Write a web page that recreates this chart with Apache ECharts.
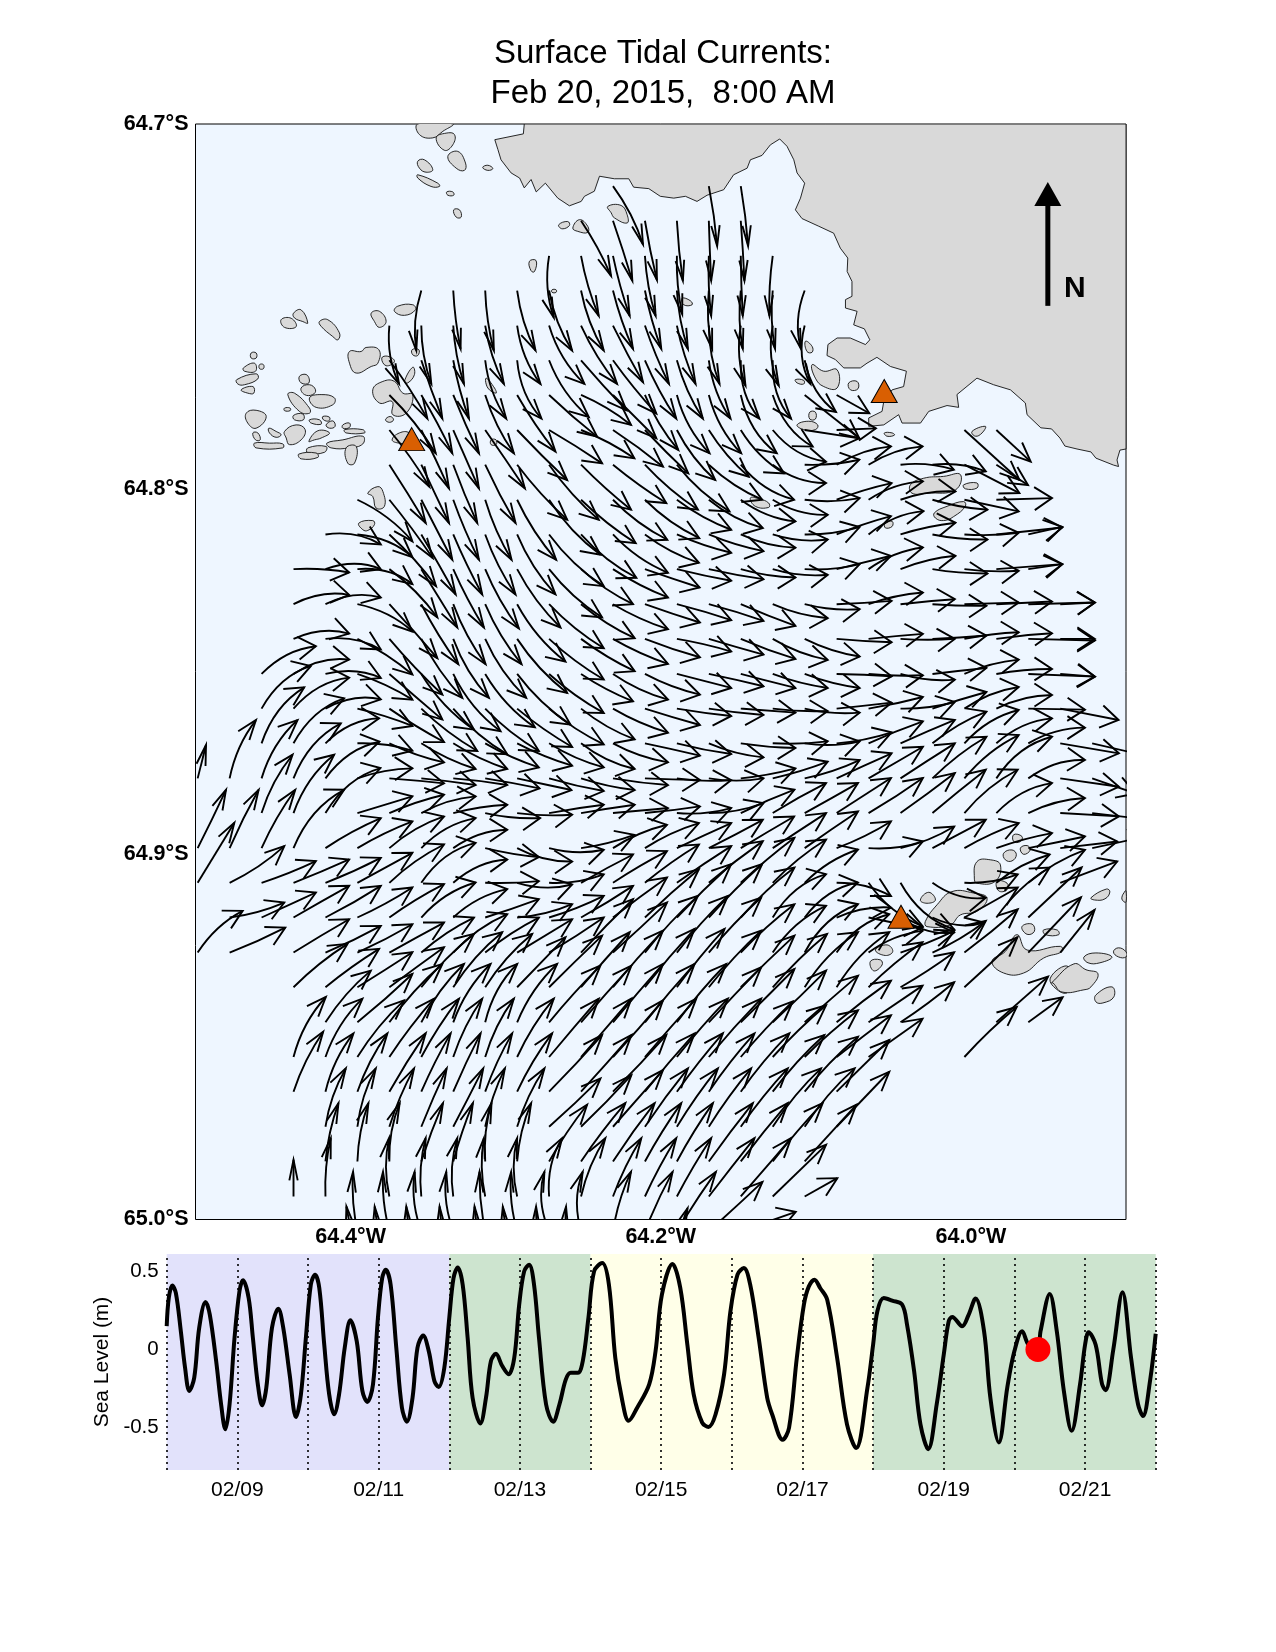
<!DOCTYPE html>
<html><head><meta charset="utf-8">
<style>html,body{margin:0;padding:0;background:#fff}#c{width:1276px;height:1652px}</style>
<script src="https://cdn.jsdelivr.net/npm/echarts@6/dist/echarts.min.js"></script>
</head><body><div id="c"></div>
<script>
// Map positions are degrees west / degrees south.
const colLon=[64.4986,64.478,64.4574,64.4368,64.4162,64.3956,64.375,64.3544,64.3338,64.3132,64.2926,64.272,64.2514,64.2308,64.2102,64.1896,64.169,64.1484,64.1278,64.1072,64.0866,64.066,64.0454,64.0248,64.0042,63.9836,63.963,63.9424,63.9218];
const rowLat=[64.717,64.7265,64.7361,64.7456,64.7552,64.7647,64.7742,64.7838,64.7933,64.8029,64.8124,64.8219,64.8315,64.841,64.8506,64.8601,64.8696,64.8792,64.8887,64.8983,64.9078,64.9173,64.9269,64.9364,64.946,64.9555,64.965,64.9746,64.9841,64.9937,65.0032,65.0127];
// per row: column index, eastward, northward current
const currentRows=[
[13,90,-175,16,25,-180,17,22,-180],
[12,90,-165,13,58,-180,14,36,-178,15,18,-180,16,7,-180,17,11,-180],
[11,14,-185,12,53,-180,13,50,-180,14,32,-180,15,16,-175,16,7,-180,17,6,-180,18,-10,-180],
[7,-15,-180,8,22,-175,9,26,-180,10,55,-180,11,69,-180,12,68,-180,13,60,-175,14,49,-175,15,33,-175,16,10,-175,17,6,-175,18,7,-175,19,-11,-175],
[6,29,-175,7,30,-175,8,32,-175,9,56,-175,10,70,-175,11,106,-175,12,108,-175,13,90,-170,14,72,-175,15,56,-175,16,32,-175,17,14,-180,18,18,-180,19,17,-175],
[6,114,-175,7,63,-175,8,47,-175,9,63,-175,10,73,-175,11,119,-170,12,136,-150,13,130,-160,14,94,-175,15,78,-175,16,65,-175,17,56,-175,18,55,-175,19,94,-155],
[6,139,-175,7,93,-175,8,77,-175,9,86,-175,10,115,-170,11,144,-125,12,150,-90,13,130,-130,14,100,-165,15,98,-175,16,97,-175,17,108,-175,18,120,-155,19,164,-130,20,98,-55],
[6,120,-170,7,83,-175,8,77,-175,9,119,-175,10,150,-150,11,159,-100,12,160,-85,13,150,-110,14,130,-130,15,115,-150,16,120,-140,17,130,-130,18,160,-95,19,164,-25,20,118,5,24,165,-150,25,103,-95],
[6,109,-175,7,83,-175,8,72,-175,9,91,-175,10,150,-165,11,149,-165,12,150,-135,13,160,-115,14,159,-135,15,158,-140,16,160,-105,17,160,-105,18,160,-55,19,164,15,20,163,55,21,162,55,22,160,-15,23,160,-20,24,165,-85,25,95,-61],
[5,165,-125,6,130,-175,7,93,-180,8,77,-180,9,79,-180,10,117,-180,11,154,-165,12,164,-130,13,163,-120,14,163,-115,15,163,-90,16,162,-85,17,164,-65,18,165,-45,19,165,5,20,165,50,21,163,55,22,165,25,23,165,-30,24,163,-35,25,167,5],
[4,166,-30,5,165,-68,6,140,-155,7,103,-180,8,87,-180,9,91,-180,10,115,-180,11,164,-155,12,166,-130,13,165,-115,14,162,-85,15,163,-55,16,164,-50,17,164,-40,18,165,-15,19,165,22,20,163,55,21,165,70,22,165,35,23,165,-15,24,163,5,25,198,21,26,102,23],
[3,167,-10,4,166,0,5,165,-45,6,144,-145,7,108,-175,8,92,-175,9,101,-178,10,130,-175,11,159,-145,12,156,-105,13,165,-85,14,164,-55,15,163,-35,16,164,-30,17,164,-25,18,165,-17,19,165,15,20,163,40,21,163,65,22,165,40,23,165,-13,24,163,-5,25,198,15,26,102,15],
[3,167,28,4,166,20,5,165,-82,6,144,-162,7,111,-180,8,97,-180,9,109,-180,10,145,-172,11,164,-132,12,161,-102,13,165,-75,14,165,-55,15,163,-48,16,164,-50,17,164,-65,18,165,-42,19,165,-15,20,165,10,21,163,35,22,163,15,23,162,-5,24,163,5,25,167,8,26,200,5,27,104,5],
[3,167,16,4,166,-32,5,165,-107,6,159,-167,7,123,-177,8,107,-177,9,123,-177,10,150,-162,11,164,-122,12,161,-97,13,165,-75,14,165,-55,15,163,-38,16,164,-47,17,164,-60,18,165,-63,19,165,-53,20,165,-10,21,163,15,22,163,0,23,162,10,24,163,20,25,167,17,26,200,-5,27,104,0],
[2,163,83,3,167,43,4,166,-12,5,165,-77,6,159,-137,7,158,-167,8,142,-172,9,149,-160,10,160,-152,11,164,-117,12,156,-82,13,165,-77,14,165,-62,15,163,-42,16,164,-37,17,164,-42,18,165,-42,19,165,-42,20,165,-7,21,163,-4,22,163,-17,23,162,18,24,163,43,25,167,15,26,200,-8,27,104,-8],
[2,148,128,3,167,93,4,166,28,5,165,-52,6,164,-100,7,168,-127,8,162,-137,9,161,-127,10,165,-115,11,164,-107,12,161,-92,13,165,-72,14,165,-49,15,163,-22,16,164,-19,17,164,-12,18,165,-7,19,165,-12,20,165,18,21,163,35,22,163,20,23,162,50,24,163,65,25,167,41,26,170,-3,27,175,-34],
[2,128,168,3,152,135,4,161,75,5,165,-22,6,164,-57,7,163,-77,8,162,-77,9,161,-72,10,165,-67,11,164,-72,12,161,-77,13,165,-57,14,165,-37,15,163,-32,16,164,-42,17,164,-14,18,165,6,19,165,6,20,165,33,21,163,66,22,163,70,23,162,95,24,163,100,25,167,75,26,170,47,27,176,-30,28,173,-40],
[0,25,100,1,79,175,2,108,175,3,142,165,4,162,110,5,165,30,6,164,-15,7,163,-20,8,162,-20,9,163,-30,10,163,-35,11,164,-38,12,161,-35,13,165,-20,14,165,-5,15,163,-5,16,164,0,17,164,30,18,165,50,19,165,55,20,165,75,21,163,95,22,163,105,23,162,125,24,163,130,25,167,125,26,170,55,27,176,-25,28,130,-45],
[2,93,175,3,122,175,4,165,135,5,165,50,6,164,55,7,163,50,8,162,25,9,165,-15,10,165,-5,11,164,25,12,161,25,13,165,15,14,165,20,15,163,15,16,164,30,17,161,70,18,160,90,19,160,90,20,163,105,21,163,105,22,163,120,23,160,130,24,160,130,25,167,90,26,170,45,27,176,-10,28,170,-20],
[0,85,175,1,87,175,2,101,175,3,152,175,4,166,90,5,165,80,6,164,95,7,163,90,8,162,55,9,161,-27,10,165,-40,11,164,-5,12,160,40,13,162,70,14,162,75,15,163,75,16,162,85,17,160,95,18,160,105,19,160,110,20,163,80,21,163,20,22,161,65,23,160,85,24,163,75,25,167,45,26,170,35,27,171,20,28,163,35],
[0,110,180,1,164,110,2,163,65,3,167,70,4,166,75,5,165,90,6,164,115,7,163,120,8,162,70,9,161,5,10,165,-5,11,164,25,12,156,85,13,162,95,14,162,115,15,163,110,16,162,125,17,161,135,18,160,130,19,160,100,20,163,-40,21,162,-130,22,161,-140,23,160,-45,24,160,25,25,160,85,26,170,99,27,171,64],
[1,164,45,2,163,75,3,167,95,4,166,95,5,165,90,6,164,100,7,163,105,8,162,85,9,161,55,10,165,40,11,164,65,12,156,95,13,162,120,14,162,145,15,163,160,16,160,160,17,161,150,18,160,130,19,160,105,20,163,30,21,162,-30,22,161,-45,23,155,-15,24,160,90,25,160,150,26,160,150],
[0,135,125,1,167,75,3,167,100,4,166,80,5,165,85,6,164,90,7,158,105,8,162,115,9,161,105,10,165,100,11,164,105,12,156,160,13,162,150,14,159,170,15,153,170,16,157,165,17,161,145,18,160,140,19,160,145,20,158,115,21,162,65,22,161,65,23,160,95,24,160,130,26,158,166,27,103,128],
[3,162,130,4,161,115,5,165,105,6,164,120,7,158,160,8,147,165,9,141,160,10,145,150,11,159,155,12,146,165,13,150,170,14,149,175,15,143,175,16,157,170,17,161,155,18,163,160,19,160,165,20,158,165,21,162,135,22,161,105,24,159,150],
[4,136,155,5,165,145,6,159,175,7,128,175,8,112,175,9,96,175,10,120,175,11,154,170,12,151,170,13,150,175,14,149,175,15,148,175,16,157,165,17,161,160,18,160,155,19,160,140,20,163,125,21,162,110,22,161,120,25,155,137,26,103,75],
[3,97,180,4,111,175,5,140,170,6,134,175,7,113,175,8,87,175,9,86,175,10,110,175,11,149,175,12,151,175,13,150,170,14,154,175,15,153,175,16,157,175,17,156,167,18,160,155,19,160,140,20,163,125,21,162,115,24,157,150],
[3,89,180,4,84,175,5,90,175,6,109,175,7,88,175,8,82,175,9,81,175,10,105,175,11,159,170,12,151,170,13,160,170,14,149,175,15,138,175,16,137,175,17,146,175,18,155,170,19,160,165,20,158,155],
[4,61,175,5,55,175,6,74,175,7,76,175,8,90,175,9,59,175,10,82,175,11,154,145,12,151,155,13,150,170,14,129,175,15,123,175,16,127,175,17,141,175,18,145,175,19,150,175,20,158,165],
[4,39,175,5,33,175,6,31,175,7,65,175,8,59,175,9,19,175,10,42,175,11,114,170,12,133,175,13,125,175,14,109,175,15,108,175,16,132,175,17,141,175,18,150,175,19,155,170],
[3,0,110,4,16,175,6,-1,175,7,13,175,8,12,175,9,-4,175,10,0,175,11,39,175,12,73,175,13,85,175,14,94,175,15,103,175,16,137,175,17,151,175,18,160,155,19,98,55],
[5,-13,178,6,-19,178,7,-20,178,8,-21,178,9,-17,178,10,-18,178,11,-14,178,12,5,178,13,54,178,14,83,178,15,117,178,16,161,148,17,165,58],
[5,-33,178,6,-44,178,7,-45,178,8,-41,178,9,-32,178,10,-43,178,11,-39,178,12,-45,178,15,32,173]
];
const vectorScale=1/3;
const coast=[[64.288,64.7],[64.2886,64.7027],[64.307,64.7043],[64.305,64.707],[64.303,64.7098],[64.2965,64.7134],[64.291,64.7148],[64.288,64.7175],[64.2836,64.7152],[64.2803,64.7186],[64.2744,64.7162],[64.2664,64.7203],[64.2589,64.7224],[64.2513,64.7212],[64.2492,64.7198],[64.2428,64.7184],[64.2395,64.7143],[64.2299,64.715],[64.2206,64.715],[64.2175,64.7173],[64.2077,64.7177],[64.2003,64.7198],[64.1916,64.7203],[64.1841,64.7198],[64.1766,64.7212],[64.1701,64.7195],[64.1594,64.718],[64.153,64.7139],[64.1443,64.7121],[64.1422,64.7098],[64.1347,64.7086],[64.1293,64.7057],[64.1233,64.7041],[64.1186,64.7061],[64.1142,64.7098],[64.1121,64.7134],[64.1072,64.7162],[64.1099,64.7203],[64.1132,64.7235],[64.1089,64.7259],[64.0981,64.728],[64.0885,64.7299],[64.0842,64.734],[64.0794,64.7367],[64.0798,64.7404],[64.0767,64.7431],[64.0767,64.7472],[64.0809,64.7481],[64.0809,64.7504],[64.0734,64.7513],[64.0756,64.755],[64.0687,64.7561],[64.0652,64.7591],[64.068,64.7604],[64.0778,64.7586],[64.0863,64.7586],[64.0922,64.7604],[64.0928,64.7634],[64.0874,64.7645],[64.082,64.7668],[64.0713,64.7668],[64.067,64.7655],[64.0606,64.7639],[64.0519,64.7664],[64.0416,64.7677],[64.0434,64.7719],[64.0508,64.7728],[64.0562,64.776],[64.0573,64.7787],[64.0659,64.7805],[64.0659,64.7828],[64.0562,64.7824],[64.0466,64.7796],[64.0444,64.7819],[64.0325,64.7819],[64.0272,64.7787],[64.0154,64.7771],[64.0079,64.7776],[64.009,64.7741],[63.9961,64.7696],[63.9854,64.7714],[63.9745,64.7728],[63.9649,64.7764],[63.9638,64.7796],[63.9549,64.7832],[63.948,64.7835],[63.9426,64.786],[63.9394,64.7882],[63.9316,64.789],[63.9226,64.7898],[63.9194,64.7915],[63.9081,64.7934],[63.9048,64.7938],[63.9058,64.792],[63.9039,64.7893],[63.9,64.789],[63.9,64.7]];
const islands=[
[[64.3567,64.7],[64.3556,64.7029],[64.347,64.7038],[64.3405,64.702],[64.3341,64.7]],
[[64.3448,64.7038],[64.3395,64.7072],[64.3341,64.7057],[64.333,64.7029],[64.3384,64.7025]],
[[64.3373,64.7089],[64.3309,64.7075],[64.3259,64.7107],[64.3266,64.7127],[64.3319,64.7121]],
[[64.3567,64.7102],[64.3524,64.7098],[64.347,64.7125],[64.3513,64.7132],[64.3556,64.7121]],
[[64.3148,64.7119],[64.3115,64.7113],[64.3083,64.7122],[64.3115,64.7127]],
[[64.3567,64.7139],[64.3438,64.7162],[64.3427,64.7171],[64.3481,64.7171],[64.3567,64.7148]],
[[64.338,64.7186],[64.3341,64.7186],[64.3335,64.7195],[64.3373,64.7195]],
[[64.3335,64.7235],[64.3298,64.7235],[64.3287,64.7255],[64.3319,64.7255]],
[[64.2658,64.7276],[64.26,64.7267],[64.2589,64.7278],[64.2636,64.7287]],
[[64.2567,64.7285],[64.2524,64.7262],[64.2471,64.728],[64.2471,64.7297],[64.2535,64.7294]],
[[64.2847,64.7376],[64.2804,64.7374],[64.2814,64.7404],[64.2836,64.7402]],
[[64.2342,64.7226],[64.2256,64.7223],[64.2217,64.7248],[64.2217,64.7271],[64.2299,64.7257],[64.232,64.7243]],
[[64.2701,64.7454],[64.2675,64.7454],[64.2675,64.7461],[64.2701,64.7461]],
[[64.4448,64.7536],[64.4383,64.7532],[64.4351,64.7555],[64.4426,64.7557]],
[[64.4368,64.7518],[64.4319,64.7509],[64.4276,64.7545],[64.4308,64.7541],[64.4362,64.7531]],
[[64.4201,64.7541],[64.4147,64.7536],[64.4072,64.7572],[64.4082,64.7591],[64.4115,64.7582],[64.419,64.7554]],
[[64.3867,64.7518],[64.3814,64.7513],[64.3771,64.7541],[64.3814,64.7557],[64.3846,64.7541]],
[[64.3696,64.7499],[64.3599,64.7495],[64.3582,64.7509],[64.3653,64.7524],[64.3717,64.7513]],
[[64.4007,64.7623],[64.3932,64.7623],[64.39,64.7612],[64.3818,64.7618],[64.3824,64.7655],[64.3867,64.7664],[64.3964,64.7682],[64.4007,64.7655]],
[[64.3799,64.7641],[64.376,64.7636],[64.3717,64.765],[64.3771,64.7662]],
[[64.3653,64.7705],[64.3599,64.7666],[64.3588,64.7686],[64.3631,64.7709]],
[[64.3857,64.7728],[64.3792,64.7705],[64.3717,64.7705],[64.3663,64.7737],[64.3599,64.7741],[64.3642,64.7792],[64.3728,64.7796],[64.3732,64.776],[64.3814,64.7764]],
[[64.3775,64.781],[64.3745,64.7801],[64.3723,64.781],[64.3749,64.7817]],
[[64.3732,64.7865],[64.3685,64.7846],[64.362,64.7846],[64.3577,64.7874],[64.3685,64.7874]],
[[64.4641,64.7627],[64.4609,64.7627],[64.4609,64.7641],[64.4641,64.7641]],
[[64.4691,64.7668],[64.462,64.7655],[64.4613,64.7677],[64.4684,64.7677]],
[[64.4587,64.7659],[64.4562,64.7659],[64.4562,64.767],[64.4587,64.767]],
[[64.4734,64.77],[64.4609,64.7684],[64.4598,64.7698],[64.4684,64.7714],[64.4727,64.7712]],
[[64.4706,64.7728],[64.463,64.7719],[64.4624,64.7737],[64.4663,64.7737]],
[[64.4319,64.7723],[64.4265,64.7714],[64.4226,64.7728],[64.4244,64.7741],[64.4297,64.7741]],
[[64.433,64.7691],[64.4282,64.7687],[64.4269,64.7709],[64.4319,64.7709]],
[[64.4405,64.7741],[64.4362,64.7737],[64.4265,64.7778],[64.4265,64.7792],[64.433,64.7787]],
[[64.4265,64.775],[64.419,64.7741],[64.4104,64.775],[64.4115,64.7769],[64.4222,64.7776]],
[[64.4673,64.7792],[64.4609,64.7784],[64.4544,64.7801],[64.4609,64.7833],[64.4663,64.7819]],
[[64.4426,64.7778],[64.439,64.7778],[64.439,64.7785],[64.4426,64.7785]],
[[64.4368,64.7798],[64.4308,64.7794],[64.4304,64.781],[64.4362,64.781]],
[[64.4265,64.781],[64.4201,64.781],[64.419,64.7822],[64.4254,64.7819]],
[[64.4179,64.7801],[64.4136,64.7803],[64.414,64.7813],[64.4175,64.781]],
[[64.4158,64.7824],[64.4115,64.7813],[64.41,64.7828],[64.4136,64.7833]],
[[64.4426,64.7842],[64.4351,64.7824],[64.4293,64.7837],[64.4319,64.7865],[64.4394,64.7878],[64.4415,64.786]],
[[64.4527,64.7833],[64.448,64.7842],[64.4448,64.7851],[64.448,64.7858],[64.4523,64.7846]],
[[64.4269,64.7869],[64.4211,64.784],[64.4136,64.7846],[64.419,64.786],[64.4233,64.7865]],
[[64.4153,64.7874],[64.405,64.7865],[64.3921,64.7855],[64.3921,64.7876],[64.4007,64.7887],[64.4125,64.7887]],
[[64.405,64.7824],[64.4007,64.7819],[64.4007,64.7831],[64.405,64.7833]],
[[64.4039,64.7837],[64.3921,64.7837],[64.391,64.7846],[64.4029,64.7846]],
[[64.462,64.7874],[64.4523,64.7874],[64.4437,64.7876],[64.4437,64.7887],[64.4609,64.7887]],
[[64.463,64.7846],[64.4598,64.7846],[64.4583,64.7865],[64.4613,64.7865]],
[[64.4276,64.7887],[64.4158,64.7883],[64.4168,64.7899],[64.4276,64.7901]],
[[64.4334,64.7904],[64.4222,64.7901],[64.4211,64.7913],[64.4319,64.7917]],
[[64.4029,64.7887],[64.3964,64.7883],[64.3975,64.7929],[64.4018,64.7929]],
[[64.3126,64.7696],[64.3072,64.7723],[64.3062,64.7737],[64.3115,64.7723]],
[[64.3603,64.7618],[64.356,64.7618],[64.3567,64.7634],[64.3599,64.7632]],
[[64.3094,64.7865],[64.3062,64.7865],[64.3062,64.7878],[64.3094,64.7878]],
[[64.3889,64.8011],[64.3824,64.7993],[64.3792,64.8006],[64.3782,64.8047],[64.3835,64.8052],[64.3857,64.802]],
[[64.3947,64.8093],[64.3857,64.8086],[64.3846,64.8097],[64.3889,64.8113],[64.3921,64.8111]],
[[64.1862,64.7477],[64.1809,64.7484],[64.1798,64.7495],[64.1852,64.7495]],
[[64.1067,64.7595],[64.1024,64.7609],[64.1024,64.7625],[64.1057,64.7623]],
[[64.1024,64.7659],[64.0949,64.7677],[64.0863,64.7673],[64.0863,64.7723],[64.0949,64.7719],[64.1003,64.7696]],
[[64.1132,64.77],[64.1078,64.7702],[64.1078,64.7712],[64.1121,64.7709]],
[[64.0788,64.7709],[64.0734,64.7705],[64.0728,64.7725],[64.0777,64.7728]],
[[64.1039,64.7789],[64.1003,64.7789],[64.1003,64.7808],[64.1039,64.7808]],
[[64.1121,64.7824],[64.1046,64.7814],[64.0988,64.7824],[64.1003,64.7837],[64.1078,64.7837]],
[[64.0558,64.7846],[64.0508,64.7846],[64.0493,64.7852],[64.0541,64.7855]],
[[63.9993,64.7842],[63.9907,64.7828],[63.9928,64.7846],[63.9971,64.7855]],
[[64.039,64.7988],[64.0304,64.797],[64.0176,64.7965],[64.0068,64.796],[64.01,64.8002],[64.0283,64.8011],[64.038,64.8011]],
[[64.0047,64.7988],[63.9961,64.7983],[63.9961,64.7997],[64.0036,64.7999]],
[[64.0236,64.8065],[64.0154,64.8047],[64.0047,64.8034],[64.0036,64.8047],[64.0111,64.8075],[64.0176,64.8086],[64.0229,64.8079]],
[[64.1422,64.8024],[64.1368,64.8026],[64.1304,64.8038],[64.1304,64.805],[64.139,64.8047]],
[[64.0552,64.8093],[64.0508,64.8088],[64.0508,64.8102],[64.0552,64.8106]],
[[64.0326,64.9125],[64.0272,64.9104],[64.0229,64.9125],[64.0283,64.9134]],
[[64.0294,64.9184],[64.0218,64.9138],[64.0122,64.9102],[63.9982,64.9106],[63.9896,64.912],[63.9961,64.9156],[64.0068,64.9166],[64.0133,64.9193],[64.0283,64.9198]],
[[63.9961,64.902],[63.9875,64.9015],[63.981,64.9029],[63.9843,64.9074],[63.9961,64.9079],[63.9978,64.9065]],
[[63.9789,64.8997],[63.9735,64.8988],[63.9707,64.9001],[63.9735,64.9018],[63.9778,64.9015]],
[[63.9681,64.8983],[63.9638,64.8976],[63.9617,64.8988],[63.966,64.9]],
[[63.9724,64.8946],[63.9671,64.8951],[63.9681,64.8965],[63.9724,64.8965]],
[[63.9832,64.9074],[63.9767,64.9079],[63.9767,64.9097],[63.9821,64.91]],
[[64.0648,64.9293],[64.0584,64.9289],[64.0573,64.9303],[64.0627,64.9319]],
[[64.0616,64.9262],[64.0541,64.9248],[64.0504,64.9266],[64.0552,64.9277]],
[[63.9671,64.9198],[63.9606,64.9191],[63.9591,64.9211],[63.9638,64.9219]],
[[63.9531,64.9207],[63.9445,64.9207],[63.9434,64.922],[63.952,64.922]],
[[63.9789,64.9325],[63.9864,64.9293],[63.9778,64.9266],[63.9703,64.922],[63.9638,64.9262],[63.9423,64.9252],[63.9412,64.9266],[63.9531,64.9284],[63.966,64.9325]],
[[63.9488,64.9339],[63.9374,64.9307],[63.9374,64.9376],[63.9434,64.9374]],
[[63.948,64.9352],[63.9336,64.93],[63.9258,64.9316],[63.9181,64.9327],[63.9226,64.9363],[63.9271,64.9371],[63.9413,64.9377],[63.9471,64.9352]],
[[63.9271,64.9281],[63.9194,64.927],[63.9091,64.9281],[63.9168,64.9297],[63.9245,64.9297]],
[[63.9081,64.9267],[63.9048,64.9256],[63.9,64.9267],[63.9,64.9281],[63.9048,64.9281]],
[[63.9194,64.9385],[63.9091,64.9363],[63.9078,64.939],[63.9149,64.9407],[63.9194,64.9404]],
[[63.9226,64.9119],[63.9126,64.9095],[63.9104,64.9103],[63.9136,64.9122],[63.9203,64.9125]],
[[63.9027,64.9119],[63.9005,64.91],[63.9,64.91],[63.9,64.913],[63.9013,64.913]]
];
const stations=[[64.3606,64.7863],[64.0559,64.7731],[64.0451,64.9171]];
const northArrow=[[63.9504,64.7498],[63.9504,64.7159]];
const lonTicks=[64.4,64.2,64.0];
const latTicks=[64.7,64.8,64.9,65.0];

const tideDay=[8,8.03,8.08,8.13,8.2,8.26,8.32,8.39,8.46,8.55,8.61,8.7,8.77,8.83,8.89,8.96,9.03,9.08,9.16,9.22,9.29,9.35,9.41,9.49,9.58,9.65,9.74,9.83,9.9,9.97,10.04,10.1,10.16,10.23,10.3,10.37,10.44,10.52,10.6,10.69,10.77,10.84,10.92,10.99,11.05,11.1,11.17,11.25,11.33,11.4,11.48,11.55,11.63,11.71,11.79,11.85,11.93,12,12.06,12.12,12.19,12.26,12.33,12.44,12.52,12.59,12.66,12.75,12.84,12.92,12.99,13.06,13.13,13.2,13.27,13.37,13.47,13.56,13.65,13.72,13.82,13.89,13.97,14.05,14.165,14.26,14.35,14.45,14.54,14.66,14.83,14.92,15.01,15.16,15.27,15.37,15.46,15.58,15.67,15.77,15.89,15.98,16.08,16.17,16.26,16.38,16.5,16.57,16.72,16.81,16.92,17.02,17.09,17.17,17.25,17.35,17.49,17.63,17.76,17.92,18,18.06,18.15,18.27,18.41,18.48,18.58,18.67,18.78,18.9,19,19.07,19.12,19.26,19.35,19.45,19.57,19.66,19.78,19.9,20,20.11,20.2,20.33,20.37,20.5,20.6,20.7,20.81,20.93,21,21.05,21.15,21.24,21.29,21.4,21.53,21.65,21.75,21.82,21.92,22];
const tideLevel=[.149,.33,.408,.36,.117,-.117,-.265,-.18,.138,.304,.223,-.074,-.35,-.51,-.35,.074,.372,.442,.329,.074,-.223,-.357,-.244,.138,.261,.138,-.159,-.431,-.287,.074,.414,.478,.393,.032,-.287,-.414,-.287,.011,.187,.053,-.265,-.335,-.223,.202,.456,.51,.414,.011,-.372,-.461,-.308,.011,.089,-.011,-.202,-.24,-.117,.202,.456,.524,.414,.074,-.308,-.473,-.308,-.074,-.028,-.106,-.159,-.053,.287,.499,.541,.414,.074,-.35,-.461,-.35,-.191,-.149,-.149,-.074,.202,.499,.552,.414,-.053,-.329,-.456,-.372,-.223,-.011,.35,.546,.393,.032,-.287,-.467,-.495,-.414,-.159,.244,.478,.52,.414,.074,-.308,-.414,-.577,-.5,-.053,.287,.403,.446,.393,.318,-.053,-.478,-.63,-.244,.032,.244,.329,.312,.287,.159,-.138,-.478,-.637,-.35,-.032,.18,.208,.149,.22,.325,.117,-.31,-.594,-.24,-.01,.117,.03,0,.117,.355,.117,-.265,-.52,-.22,.03,.11,.03,-.22,-.26,0,.365,-.05,-.35,-.425,-.2,.1];
const bandStart=[8,12,14,18];
const bandEnd=[12,14,18,22];
const bandColor=['#E2E2FB','#CDE4CF','#FFFFE8','#CDE4CF'];
const dayTicks=[8,9,10,11,12,13,14,15,16,17,18,19,20,21,22];
const currentTime=[20.333,0];
const levelTicks=[-0.5,0,0.5];

const FONT='"Liberation Sans",Arial,sans-serif';
const lookup={};
const arrows=[];
currentRows.forEach((row,r)=>{
  for(let k=0;k<row.length;k+=3){
    const c=row[k];
    lookup[r+','+c]=[row[k+1],row[k+2]];
    arrows.push([colLon[c],rowLat[r],row[k+1],row[k+2]]);
  }
});
function renderArrow(params,api){
  const t=api.coord([api.value(0),api.value(1)]);
  const dx=api.value(2)*vectorScale, dy=-api.value(3)*vectorScale;
  const hx=t[0]+dx, hy=t[1]+dy, L=Math.hypot(dx,dy);
  const a0=api.coord([colLon[0],rowLat[0]]), a1=api.coord([colLon[1],rowLat[1]]);
  const cw=a1[0]-a0[0], rh=a1[1]-a0[1];
  const nb=lookup[Math.round((hy-a0[1])/rh)+','+Math.round((hx-a0[0])/cw)];
  let ang=Math.atan2(dy,dx);
  const chord=ang;
  if(nb){
    let d=Math.atan2(-nb[1],nb[0])-chord;
    while(d>Math.PI)d-=2*Math.PI;
    while(d<-Math.PI)d+=2*Math.PI;
    d=Math.max(-0.4,Math.min(0.4,d*0.55));
    ang=chord+d;
  }
  const cx=hx-0.5*L*Math.cos(ang), cy=hy-0.5*L*Math.sin(ang);
  const c=Math.cos(ang);
  const bl=21, ba=0.2+0.38*c*c;
  const style={stroke:'#000',fill:null,lineWidth:1.9};
  return {type:'group',children:[
    {type:'bezierCurve',shape:{x1:t[0],y1:t[1],x2:hx,y2:hy,cpx1:cx,cpy1:cy},style},
    {type:'polyline',shape:{points:[
      [hx-bl*Math.cos(ang-ba),hy-bl*Math.sin(ang-ba)],[hx,hy],
      [hx-bl*Math.cos(ang+ba),hy-bl*Math.sin(ang+ba)]]},style}
  ]};
}
const land=[coast].concat(islands);
const chart=echarts.init(document.getElementById('c'),null,{renderer:'canvas'});
chart.setOption({
  animation:false,
  backgroundColor:'#fff',
  title:{text:'Surface Tidal Currents:\nFeb 20, 2015,  8:00 AM',left:658,top:29,textAlign:'center',
    textStyle:{fontFamily:FONT,fontSize:33,fontWeight:'normal',color:'#000',lineHeight:40}},
  grid:[
    {left:195.5,top:124,width:930.5,height:1095.5,show:true,backgroundColor:'#EEF6FF',borderColor:'#000',borderWidth:1},
    {left:166.7,top:1254,width:989,height:216}
  ],
  xAxis:[
    {gridIndex:0,type:'value',inverse:true,min:63.9,max:64.5,
      axisLine:{show:false},axisTick:{show:false},splitLine:{show:false},
      axisLabel:{customValues:lonTicks,margin:7,fontFamily:FONT,fontSize:21.5,fontWeight:'bold',color:'#000',
        formatter:v=>v.toFixed(1)+'°W'}},
    {gridIndex:1,type:'value',min:8,max:22,interval:1,
      axisLine:{show:true,lineStyle:{color:'#000',width:1}},axisTick:{show:false},splitLine:{show:false},
      axisLabel:{margin:10,fontFamily:FONT,fontSize:21,color:'#000',showMinLabel:true,showMaxLabel:true,hideOverlap:false,
        formatter:v=>v%2===1?'02/'+String(v).padStart(2,'0'):''}}
  ],
  yAxis:[
    {gridIndex:0,type:'value',inverse:true,min:64.7,max:65.0,
      axisLine:{show:false},axisTick:{show:false},splitLine:{show:false},
      axisLabel:{customValues:latTicks,margin:7,fontFamily:FONT,fontSize:21.5,fontWeight:'bold',color:'#000',
        formatter:v=>v.toFixed(1)+'°S'}},
    {gridIndex:1,type:'value',min:-0.77,max:0.61,
      name:'Sea Level (m)',nameLocation:'middle',nameRotate:90,nameGap:54,
      nameTextStyle:{fontFamily:FONT,fontSize:21,color:'#000'},
      axisLine:{show:false},axisTick:{show:false},splitLine:{show:false},
      axisLabel:{customValues:levelTicks,margin:8,fontFamily:FONT,fontSize:20.5,color:'#000',
        formatter:v=>v===0?'0':v.toFixed(1)}}
  ],
  series:[
    {type:'custom',name:'land',xAxisIndex:0,yAxisIndex:0,clip:true,silent:true,z:2,
      data:land.map((_,i)=>[i]),encode:{x:-1,y:-1},
      renderItem:(p,api)=>{const i=api.value(0);return {type:'polygon',
        shape:{points:land[i].map(q=>api.coord(q)),smooth:i>0?0.45:0},
        style:{fill:'#D9D9D9',stroke:'#111',lineWidth:0.9}};}},
    {type:'custom',name:'currents',xAxisIndex:0,yAxisIndex:0,clip:true,silent:true,z:3,
      data:arrows,encode:{x:0,y:1},renderItem:renderArrow},
    {type:'scatter',name:'stations',xAxisIndex:0,yAxisIndex:0,silent:true,z:4,data:stations,
      symbol:'triangle',symbolSize:[26,23],
      itemStyle:{color:'#D95F02',opacity:1,borderColor:'#000',borderWidth:1}},
    {type:'custom',name:'north',xAxisIndex:0,yAxisIndex:0,silent:true,z:5,
      data:[[northArrow[0][0],northArrow[0][1],northArrow[1][0],northArrow[1][1]]],encode:{x:0,y:1},
      renderItem:(p,api)=>{
        const a=api.coord([api.value(0),api.value(1)]), b=api.coord([api.value(2),api.value(3)]);
        return {type:'group',children:[
          {type:'line',shape:{x1:a[0],y1:a[1],x2:b[0],y2:b[1]+20},style:{stroke:'#000',lineWidth:5}},
          {type:'polygon',shape:{points:[[b[0],b[1]],[b[0]-13.5,b[1]+24],[b[0]+13.5,b[1]+24]]},style:{fill:'#000'}},
          {type:'text',style:{text:'N',x:a[0]+27,y:a[1]-17,textAlign:'center',textVerticalAlign:'middle',
            font:'bold 30px '+FONT,fill:'#000'}}
        ]};
      }},
    {type:'line',name:'Sea Level',xAxisIndex:1,yAxisIndex:1,silent:true,z:3,
      data:tideDay.map((d,i)=>[d,tideLevel[i]]),showSymbol:false,smooth:0.35,
      lineStyle:{color:'#000',width:4},
      markArea:{silent:true,z:1,data:bandStart.map((s,i)=>[{xAxis:s,itemStyle:{color:bandColor[i],opacity:1}},{xAxis:bandEnd[i]}])},
      markLine:{silent:true,symbol:'none',z:2,label:{show:false},
        lineStyle:{color:'#000',width:1.6,type:[2,4],opacity:1},
        data:dayTicks.map(d=>({xAxis:d}))}},
    {type:'scatter',name:'now',xAxisIndex:1,yAxisIndex:1,silent:true,z:6,data:[currentTime],
      symbol:'circle',symbolSize:25,itemStyle:{color:'#FF0000',opacity:1}}
  ]
});
</script></body></html>
